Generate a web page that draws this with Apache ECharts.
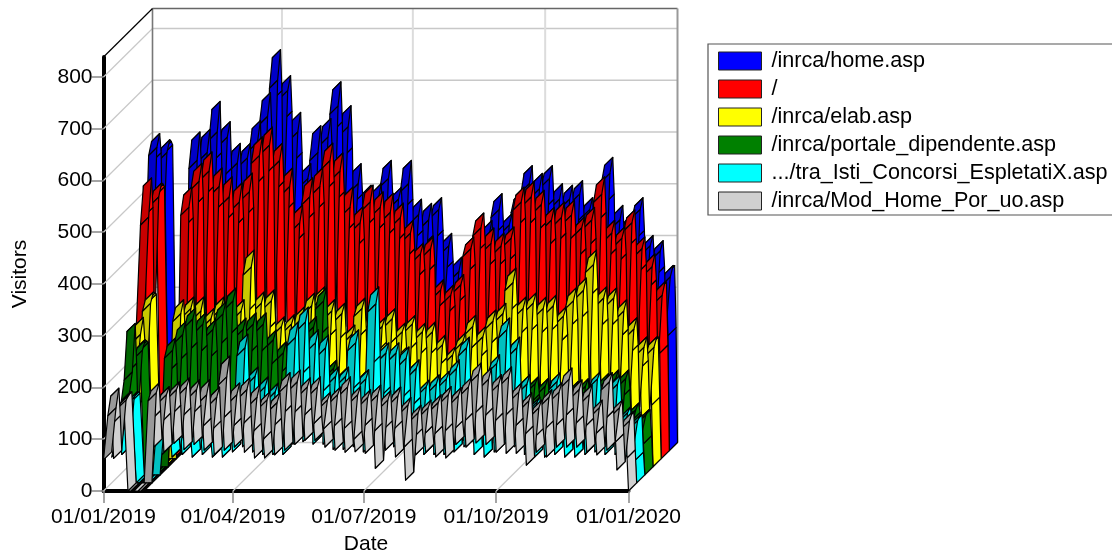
<!DOCTYPE html>
<html><head><meta charset="utf-8">
<script src="https://cdn.jsdelivr.net/npm/echarts@6/dist/echarts.min.js"></script>
<style>html,body{margin:0;padding:0;background:#fff}#c{width:1112px;height:556px}</style>
</head><body><div id="c"></div>
<script>
const seriesNames=['/inrca/home.asp','/','/inrca/elab.asp','/inrca/portale_dipendente.asp','.../tra_Isti_Concorsi_EspletatiX.asp','/inrca/Mod_Home_Por_uo.asp'];
const brightColors=['#0000ff','#ff0000','#ffff00','#008000','#00ffff','#d0d0d0'];
const darkColors=['#0000c8','#c80000','#c8c800','#006400','#00c0c0','#999999'];
const xTickDays=[0,90,181,273,365];
const xTickLabels=['01/01/2019','01/04/2019','01/07/2019','01/10/2019','01/01/2020'];
const yTicks=[0,100,200,300,400,500,600,700,800];
const sampleDays=[0];
for(let w=0;w<52;w++){for(const o of [3,5,6,7])sampleDays.push(o+7*w);}
sampleDays.push(365);
const homeAsp=[300,
570,597,560,360, 560,585,582,575, 0,0,0,0, 0,0,0,0,
545,600,530,340, 560,605,520,330, 600,659,560,370, 590,620,530,340,
540,578,500,310, 550,578,510,320, 580,622,530,340, 630,676,600,380,
700,759,680,420, 680,709,640,400, 600,638,560,350, 510,539,480,300,
560,612,530,340, 590,626,560,350, 650,697,620,380, 610,651,570,360,
500,539,480,300, 460,497,440,280, 470,500,440,290, 510,545,480,310,
470,493,430,280, 500,545,470,300, 440,470,410,260, 430,462,400,260,
450,473,410,270, 380,404,350,230, 330,358,310,200, 260,280,240,170,
380,415,360,230, 400,429,380,240, 450,481,420,270, 420,442,390,250,
460,485,430,270, 500,535,470,300, 490,520,450,290, 510,535,470,300,
470,500,440,280, 470,497,430,280, 480,506,440,290, 450,473,410,270,
460,490,430,280, 520,551,480,310, 430,458,400,260, 420,442,390,250,
450,473,410,270, 380,400,350,230, 370,390,340,220, 320,342,342,222, 0];
const rootPage=[250,
451,527,470,220, 490,517,515,510, 0,0,0,0, 0,0,0,0,
470,509,450,210, 520,555,490,230, 540,577,510,240, 510,546,480,220,
490,529,460,210, 480,517,450,210, 500,536,470,220, 570,606,530,250,
590,625,550,260, 560,594,520,250, 510,546,480,220, 440,474,420,200,
490,527,460,220, 510,546,480,230, 560,594,520,250, 540,575,500,240,
470,509,440,210, 440,471,410,200, 480,513,450,210, 470,500,440,210,
460,497,430,200, 450,478,420,200, 420,445,390,180, 380,401,350,170,
390,413,360,170, 310,330,290,150, 300,320,280,140, 320,340,300,150,
390,413,360,170, 430,459,400,190, 400,430,370,180, 395,420,370,170,
410,432,380,180, 480,509,450,210, 490,520,450,220, 475,503,440,210,
445,470,410,200, 450,480,420,200, 455,484,420,200, 430,451,390,190,
445,470,410,200, 495,529,460,220, 420,445,390,190, 410,432,380,180,
440,465,410,190, 390,413,360,170, 355,380,330,160, 300,326,326,204, 0];
const elabAsp=[150,
240,273,230,120, 300,322,320,318, 0,0,0,0, 0,0,0,0,
280,307,250,110, 290,312,250,110, 285,312,250,115, 270,290,235,105,
290,312,250,115, 260,280,230,105, 285,307,250,110, 370,403,300,130,
300,322,260,120, 305,326,265,120, 255,274,225,100, 260,278,225,105,
270,293,240,110, 295,320,255,115, 310,332,270,120, 285,307,250,110,
280,300,245,110, 240,258,210,95, 290,310,250,110, 265,287,235,105,
255,272,225,100, 270,290,235,105, 245,262,215,95, 260,277,225,100,
245,262,215,95, 245,264,215,95, 220,239,195,90, 200,216,175,85,
225,243,200,90, 255,277,225,100, 235,255,210,95, 265,287,235,105,
280,300,245,110, 340,368,300,130, 290,312,255,115, 300,320,260,115,
290,312,255,115, 295,316,260,115, 275,293,240,110, 305,330,270,120,
325,349,285,125, 375,403,330,140, 310,332,270,120, 310,330,270,120,
285,307,250,110, 250,272,220,100, 215,235,190,90, 215,235,235,119, 0];
const portaleDipendente=[120,
183,277,200,100, 225,245,243,240, 0,0,0,0, 0,0,0,0,
225,249,200,90, 255,280,220,95, 285,307,240,100, 275,297,235,100,
265,284,225,95, 295,318,250,105, 320,345,270,110, 265,287,225,95,
275,297,235,100, 275,297,235,100, 245,264,210,90, 220,241,195,85,
230,250,200,85, 240,260,205,90, 270,290,230,95, 320,345,270,110,
190,206,165,80, 175,190,150,75, 165,180,145,70, 170,185,150,75,
165,180,145,75, 170,185,150,75, 160,175,140,70, 155,170,135,70,
150,165,135,70, 145,160,130,65, 140,155,125,65, 135,150,120,60,
140,155,125,65, 150,165,130,65, 145,160,130,65, 150,165,135,70,
155,170,135,70, 160,175,140,70, 155,170,135,70, 150,165,135,70,
160,173,140,70, 155,170,135,70, 150,165,135,70, 145,160,125,65,
150,165,130,65, 155,170,135,70, 160,175,140,70, 165,180,145,75,
170,187,150,75, 170,187,150,75, 110,123,105,60, 100,110,110,60, 0];
const concorsiEspletati=[50,
90,130,100,55, 150,160,160,158, 0,0,0,0, 0,0,0,0,
100,115,85,55, 95,110,80,50, 105,120,85,55, 100,115,85,50,
105,120,85,55, 95,110,80,50, 105,120,85,50, 150,170,110,60,
245,272,180,70, 190,208,140,60, 170,189,130,55, 160,177,120,55,
155,170,120,55, 265,295,190,75, 295,324,210,80, 255,280,180,75,
245,270,175,75, 190,208,145,65, 190,208,145,65, 255,280,180,70,
185,203,140,60, 330,363,230,80, 235,255,170,70, 235,255,170,70,
225,247,165,65, 205,222,150,60, 170,183,130,55, 175,193,135,55,
185,200,140,55, 205,222,150,60, 245,266,175,70, 165,180,125,55,
140,150,110,50, 215,232,155,60, 280,303,195,75, 245,266,175,70,
175,193,135,55, 140,150,110,50, 120,130,100,50, 180,197,135,55,
120,130,100,50, 140,150,110,50, 155,170,120,55, 185,199,140,60,
165,180,125,55, 175,193,130,55, 120,131,100,50, 105,116,116,44, 0];
const modHomePorUo=[60,
145,183,130,63, 160,170,176,176, 0,0,0,0, 0,0,0,0,
174,193,140,85, 170,186,135,75, 180,195,150,92, 185,203,145,80,
180,199,150,90, 170,199,125,79, 165,185,120,70, 205,245,140,79,
170,193,125,85, 180,203,130,75, 165,189,115,64, 160,176,100,64,
155,174,125,70, 190,213,150,79, 195,218,150,90, 185,203,145,98,
185,205,130,98, 160,175,120,85, 170,185,125,79, 185,205,120,75,
170,186,100,76, 165,180,125,73, 170,189,115,44, 160,178,120,79,
168,185,120,66, 150,165,85,21, 135,150,105,70, 145,160,110,75,
155,170,110,66, 170,186,115,64, 168,184,120,90, 185,203,135,85,
210,232,150,93, 200,222,145,90, 190,209,135,75, 205,224,145,73,
175,193,125,73, 158,174,110,50, 145,160,105,75, 165,180,120,66,
175,193,125,85, 200,222,145,85, 180,199,130,85, 170,189,125,75,
145,160,110,70, 195,213,140,79, 145,160,95,41, 120,137,137,64, 0];
const allValues=[homeAsp,rootPage,elabAsp,portaleDipendente,concorsiEspletati,modHomePorUo];

const yMax=838.6, depthX=49, depthY=48.5, FONT='"Liberation Sans",Arial,sans-serif';
const layers=allValues.length;

function wallItem(params,api){
  const line=(a,b,color,w)=>({type:'line',shape:{x1:a[0],y1:a[1],x2:b[0],y2:b[1]},style:{stroke:color,lineWidth:w}});
  const back=p=>[p[0]+depthX,p[1]-depthY];
  const x0=xTickDays[0],x1=xTickDays[xTickDays.length-1];
  const ch=[];
  yTicks.forEach(v=>{
    const a=api.coord([x0,v]),b=api.coord([x1,v]);
    ch.push(line(back(a),back(b),'#c8c8c8',1.5));
    ch.push(line(a,back(a),'#c8c8c8',1.2));
  });
  xTickDays.forEach((d,i)=>{
    const a=api.coord([d,0]),t=api.coord([d,yMax]);
    if(i>0&&i<xTickDays.length-1){
      ch.push(line(back(a),back(t),'#dcdcdc',2));
      ch.push(line(a,back(a),'#c8c8c8',1.2));
    }
  });
  const tl=api.coord([x0,yMax]),tr=api.coord([x1,yMax]),bl=api.coord([x0,0]),br=api.coord([x1,0]);
  ch.push(line(back(tl),back(tr),'#666666',1.6));
  ch.push(line(back(tl),back(bl),'#777777',1.6));
  ch.push(line(back(tr),back(br),'#999999',2));
  ch.push(line(br,back(br),'#aaaaaa',1.5));
  ch.push(line(tl,back(tl),'#000000',1.2));
  return {type:'group',children:ch};
}
function ribbonItem(k){
  const f0=(layers-1-k)/layers, f1=(layers-k)/layers;
  return function(params,api){
    const a=api.coord([api.value(0),api.value(1)]),b=api.coord([api.value(2),api.value(3)]);
    const ox0=depthX*f0,oy0=depthY*f0,ox1=depthX*f1,oy1=depthY*f1;
    const sx=b[0]-a[0],sy=b[1]-a[1];
    const under=sx*(-depthY)-sy*depthX>0;
    return {type:'polygon',
      shape:{points:[[a[0]+ox0,a[1]-oy0],[b[0]+ox0,b[1]-oy0],[b[0]+ox1,b[1]-oy1],[a[0]+ox1,a[1]-oy1]]},
      style:{fill:under?darkColors[k]:brightColors[k],stroke:'#000000',lineWidth:1.2,lineJoin:'round'}};
  };
}
const series=[{type:'custom',name:'walls',data:[[0,0]],renderItem:wallItem,clip:false,silent:true,z:1,animation:false,encode:{x:0,y:1}}];
allValues.forEach((vals,k)=>{
  const segs=[];
  for(let i=vals.length-2;i>=0;i--)segs.push([sampleDays[i],vals[i],sampleDays[i+1],vals[i+1]]);
  series.push({type:'custom',name:seriesNames[k],data:segs,renderItem:ribbonItem(k),clip:false,silent:true,z:3+k,
    progressive:0,animation:false,itemStyle:{color:brightColors[k]},encode:{x:[0,2],y:[1,3]}});
});
const chart=echarts.init(document.getElementById('c'),null,{renderer:'canvas'});
chart.setOption({
  animation:false,backgroundColor:'#ffffff',
  grid:{left:103.5,right:483.5,top:57,bottom:65,containLabel:false,outerBoundsMode:'none'},
  legend:{data:seriesNames.map((n,k)=>({name:n,itemStyle:{color:brightColors[k],borderColor:'#222',borderWidth:1}})),
    orient:'vertical',left:708,top:44,icon:'rect',itemWidth:43,itemHeight:18,itemGap:6,selectedMode:false,
    padding:[6,50,3,10],borderColor:'#555',borderWidth:1.2,backgroundColor:'#fff',
    textStyle:{fontFamily:FONT,fontSize:21.6,color:'#000',padding:[0,0,0,5]}},
  xAxis:{type:'value',min:0,max:365,name:'Date',nameLocation:'middle',nameGap:43,
    nameTextStyle:{fontFamily:FONT,fontSize:21,color:'#000'},
    splitLine:{show:false},
    axisLine:{show:true,onZero:false,lineStyle:{color:'#000',width:4}},
    axisTick:{show:true,customValues:xTickDays,length:12,lineStyle:{color:'#888',width:1.5}},
    axisLabel:{customValues:xTickDays,margin:16,fontFamily:FONT,fontSize:21,color:'#000',showMinLabel:true,showMaxLabel:true,hideOverlap:false,
      formatter:v=>xTickLabels[xTickDays.indexOf(v)]||''}},
  yAxis:{type:'value',min:0,max:yMax,name:'Visitors',nameLocation:'middle',nameGap:73,
    nameTextStyle:{fontFamily:FONT,fontSize:21,color:'#000'},
    splitLine:{show:false},
    axisLine:{show:true,onZero:false,lineStyle:{color:'#000',width:4}},
    axisTick:{show:true,customValues:yTicks,length:12,lineStyle:{color:'#888',width:1.5}},
    axisLabel:{customValues:yTicks,margin:11,fontFamily:FONT,fontSize:21,color:'#000',formatter:v=>String(v)}},
  series
});
</script></body></html>
